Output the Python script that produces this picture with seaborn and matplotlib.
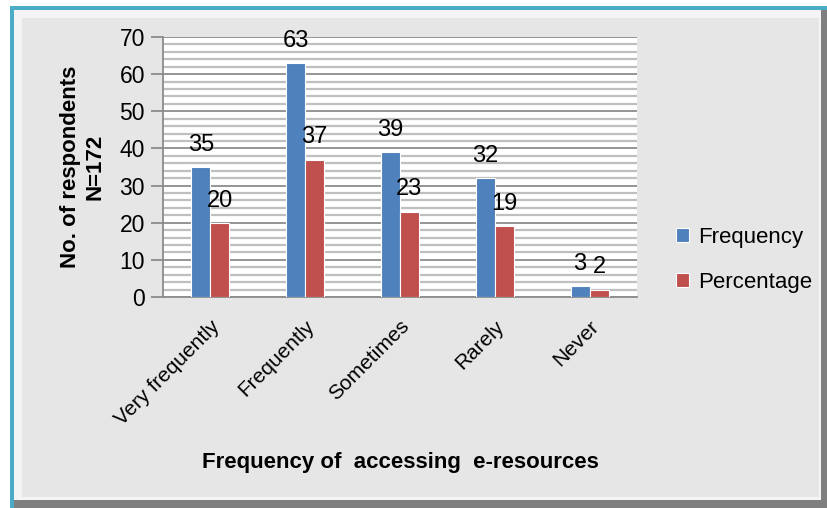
import matplotlib
matplotlib.use("Agg")
import matplotlib.pyplot as plt
from matplotlib import font_manager
from matplotlib.patches import Rectangle
from matplotlib.ticker import MultipleLocator
import seaborn as sns
import pandas as pd

categories = ["Very frequently", "Frequently", "Sometimes", "Rarely", "Never"]
frequency = [35, 63, 39, 32, 3]
percentage = [20, 37, 23, 19, 2]
series_names = ["Frequency", "Percentage"]
y_ticks = [0, 10, 20, 30, 40, 50, 60, 70]

names = {f.name for f in font_manager.fontManager.ttflist}
fam = "Liberation Sans Narrow" if "Liberation Sans Narrow" in names else "Liberation Sans"

sns.set_theme(style="white")
plt.rcParams["font.family"] = [fam, "DejaVu Sans"]

df = pd.DataFrame({
    "cat": categories * 2,
    "val": frequency + percentage,
    "series": [series_names[0]] * len(categories) + [series_names[1]] * len(categories),
})

fig = plt.figure(figsize=(8.27, 5.08), dpi=100)
fig.patch.set_facecolor("white")
W, H = 827, 508
def fr(x0, y0, x1, y1, color, z):
    fig.patches.append(Rectangle((x0 / W, 1 - y1 / H), (x1 - x0) / W, (y1 - y0) / H,
                                 transform=fig.transFigure, facecolor=color, edgecolor="none", zorder=z))
# frame
fr(10, 6, 827, 508, "#4BACC6", -10)
fr(14, 10, 827, 508, "#7F7F7F", -9)
fr(14, 10, 821, 500, "#F4F4F4", -8)
fr(22, 18, 819, 497, "#E6E6E6", -7)

ax = fig.add_axes([163 / W, 1 - 297 / H, (637 - 163) / W, (297 - 37) / H])
ax.set_facecolor("white")
sns.barplot(data=df, x="cat", y="val", hue="series", palette=["#4F81BD", "#C0504D"],
            saturation=1, width=0.4, gap=0, edgecolor="white", linewidth=0.8, ax=ax, zorder=3)

ax.set_xlim(-0.5, 4.5)
ax.set_ylim(0, 70)
ax.set_yticks(y_ticks)
ax.yaxis.set_minor_locator(MultipleLocator(2))
ax.grid(which="major", axis="y", color="#8C8C8C", linewidth=1.3, zorder=0)
ax.grid(which="minor", axis="y", color="#BFBFBF", linewidth=1.6, zorder=0)
ax.set_axisbelow(True)
for s in ["top", "right"]:
    ax.spines[s].set_visible(False)
for s in ["left", "bottom"]:
    ax.spines[s].set_color("#8C8C8C")
    ax.spines[s].set_linewidth(1.3)
ax.tick_params(axis="y", which="major", left=True, length=9, width=1.3, color="#8C8C8C",
               labelsize=16.5, pad=4, labelcolor="black")
ax.tick_params(axis="y", which="minor", left=False)
ax.tick_params(axis="x", bottom=False, labelsize=15, pad=8, labelcolor="black")
for lbl in ax.get_xticklabels():
    lbl.set_rotation(45)
    lbl.set_ha("right")
    lbl.set_rotation_mode("anchor")

for c in ax.containers:
    ax.bar_label(c, labels=[f"{int(v)}" for v in c.datavalues], padding=8, fontsize=17,
                 color="black")

ax.set_xlabel("Frequency of  accessing  e-resources", fontsize=16, fontweight="bold",
              labelpad=17, color="black")
ax.set_ylabel("No. of respondents\nN=172", fontsize=16, fontweight="bold", labelpad=10,
              linespacing=1.2, color="black")

leg = ax.legend(loc="center left", bbox_to_anchor=(676 / W, 1 - 260 / H),
                bbox_transform=fig.transFigure, frameon=False, fontsize=16,
                handlelength=0.6, handleheight=0.6, handletextpad=0.4, labelspacing=1.1,
                borderpad=0, borderaxespad=0)
for t in leg.get_texts():
    t.set_color("black")

fig.savefig("out.png", dpi=100)
